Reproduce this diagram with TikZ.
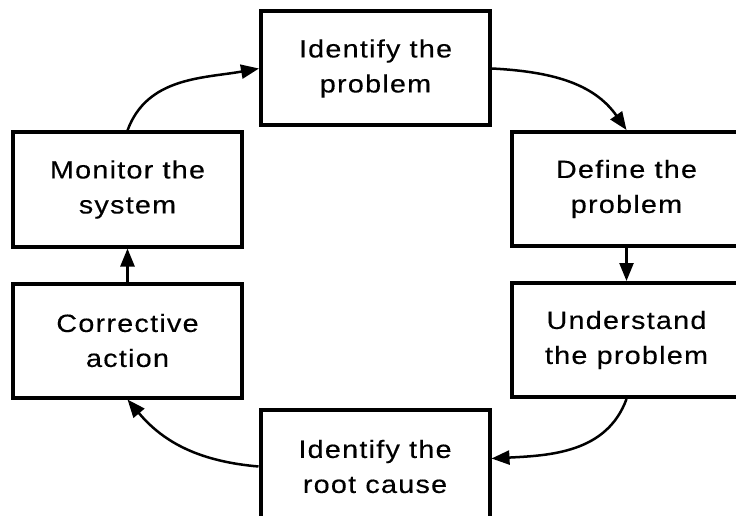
\documentclass[tikz,border=0pt]{standalone}
\usepackage{fontspec}
\setmainfont{Liberation Sans}[LetterSpace=5, FakeStretch=1.15, FakeBold=0.25]
\usetikzlibrary{arrows.meta}

\tikzset{
	stage/.style={draw=black, line width=4pt, fill=white, minimum width=229pt, minimum height=114pt, align=center, inner sep=0pt, font=\fontsize{25}{35}\selectfont},
	flow/.style={line width=2.5pt, -{Triangle[length=18pt, width=14pt]}}
}

\begin{document}
\begin{tikzpicture}[x=1pt, y=-1pt]
			%%%%% START %%%%%
			
			\useasboundingbox (0, 0) rectangle (736, 516);
			\clip (0, 0) rectangle (736, 516);
			
			\node[stage] (identify) at (375.5, 68.5) {Identify the\\problem};
			\node[stage] (define) at (626.5, 189) {Define the\\problem};
			\node[stage] (understand) at (626.5, 340) {Understand\\the problem};
			\node[stage] (rootcause) at (375, 466.5) {Identify the\\root cause};
			\node[stage] (corrective) at (127.5, 340.5) {Corrective\\action};
			\node[stage] (monitor) at (127.5, 189.5) {Monitor the\\system};
			
			\draw[flow] (identify.east) to[out=-3, in=125] (define.north);
			\draw[flow] (define.south) -- (understand.north);
			\draw[flow] (understand.south) to[out=-110, in=3] ([yshift=8pt]rootcause.east);
			\draw[flow] (rootcause.west) to[out=175, in=-50] (corrective.south);
			\draw[flow] (corrective.north) -- (monitor.south);
			\draw[flow] (monitor.north) to[out=70, in=190] (identify.west);
			
			%%%%% END %%%%%
		\end{tikzpicture}
\end{document}
